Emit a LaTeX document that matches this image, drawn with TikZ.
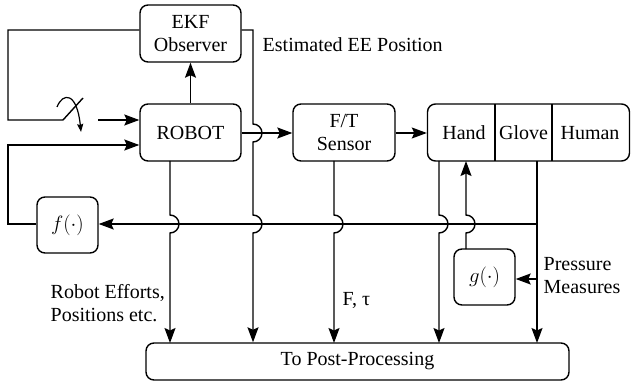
\documentclass[tikz,border=0pt]{standalone}
\usepackage{fontspec}
\setmainfont{Liberation Serif}
\usetikzlibrary{arrows.meta}
\begin{document}
\begin{tikzpicture}[x=1pt,y=-1pt,
  font=\fontsize{20}{23}\selectfont,
  line width=1.4pt,
  box/.style={draw,rounded corners=8pt,align=center,inner sep=0pt},
  arr/.style={-{Stealth[length=15pt,width=11pt,inset=2.5pt]}},
  lbl/.style={anchor=west,align=left,inner sep=0pt}]
\useasboundingbox (0,0) rectangle (631,387);
% boxes
\node[box,minimum width=101pt,minimum height=57pt] (ekf) at (190.5,33.5) {EKF\\Observer};
\node[box,minimum width=101pt,minimum height=57pt] (robot) at (190.5,132.5) {ROBOT};
\node[box,minimum width=102pt,minimum height=57pt] (ft) at (344,132.5) {F/T\\Sensor};
\node[box,minimum width=202pt,minimum height=57pt] (hgh) at (528.5,132.5) {};
\node[inner sep=0pt] (hand) at (464,133) {Hand};
\node[inner sep=0pt] (glove) at (523.5,133) {Glove};
\node[inner sep=0pt] (human) at (590,133) {Human};
\coordinate (d1t) at (495,104); \coordinate (d1b) at (495,161);
\coordinate (d2t) at (552,104); \coordinate (d2b) at (552,161);
\draw (d1t) -- (d1b);
\draw (d2t) -- (d2b);
\node[box,minimum width=61pt,minimum height=56pt] (f) at (67.5,225) {$f(\cdot)$};
\node[box,minimum width=61pt,minimum height=56pt] (g) at (484.5,277) {$g(\cdot)$};
\node[box,minimum width=423pt,minimum height=37pt] (post) at (357.5,361.5) {To Post-Processing};
% labels
\node[lbl] (est) at (262,45) {Estimated EE Position};
\node[lbl] (reff) at (50,303.5) {Robot Efforts,\\Positions etc.};
\node[lbl] (ftau) at (342,300) {F, τ};
\node[lbl] (press) at (543,275.5) {Pressure\\Measures};
% switch
\coordinate (s0) at (8,30);
\coordinate (s1) at (8,120);
\coordinate (s2) at (63,120);
\coordinate (s3) at (83,98);
\coordinate (s4) at (98,120);
\draw (ekf.west |- 0,30) -- (s0) -- (s1) -- (s2) -- (s3);
\draw[-{Stealth[length=8pt,width=6pt,inset=1pt]},line width=1.2pt] (57,107) .. controls (63,92) and (77,92) .. (81,132);
\draw[arr] (s4) -- (robot.west |- s4);
% f feedback
\coordinate (fl) at (8,224);
\coordinate (fl2) at (8,145);
\draw[arr] (f.west |- fl) -- (fl) -- (fl2) -- (robot.west |- fl2);
% main forward
\draw[arr] (robot.north) -- (ekf.south);
\draw[arr] (robot.east |- 0,133) -- (ft.west |- 0,133);
\draw[arr] (ft.east |- 0,133) -- (hgh.west |- 0,133);
% estimated EE line
\coordinate (e1) at (253,30);
\draw[arr] (ekf.east |- e1) -- (e1) -- (253,124) arc[start angle=90,end angle=-90,radius=9pt]
  -- (253,215) arc[start angle=90,end angle=-90,radius=9pt] -- (post.north -| e1);
% horizontal feedback line
\coordinate (gl) at (537,224);
\draw[arr] (gl) -- (f.east |- gl);
% vertical lines to post
\draw[arr] (170,161) -- (170,215) arc[start angle=90,end angle=-90,radius=9pt] -- (170,343);
\draw[arr] (334,161) -- (334,215) arc[start angle=90,end angle=-90,radius=9pt] -- (334,343);
\draw[arr] (439,161) -- (439,215) arc[start angle=90,end angle=-90,radius=9pt] -- (439,343);
\draw[arr] (537,161) -- (537,343);
% g to hand
\draw[arr] (466,249) -- (466,233) arc[start angle=-90,end angle=90,radius=9pt] -- (466,161);
\draw[arr] (537,279) -- (g.east |- 0,279);
\end{tikzpicture}
\end{document}
